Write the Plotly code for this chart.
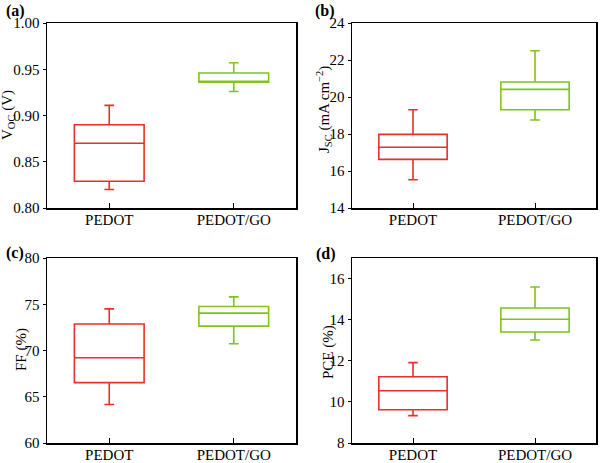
import plotly.graph_objects as go

categories = ["PEDOT", "PEDOT/GO"]
colors = ["#e8302a", "#7fc31c"]

# stats per panel: [lower, q1, median, q3, upper] for PEDOT and PEDOT/GO
voc_pedot = [0.820, 0.829, 0.870, 0.890, 0.911]
voc_go = [0.926, 0.936, 0.936, 0.946, 0.957]
jsc_pedot = [15.53, 16.63, 17.28, 17.98, 19.31]
jsc_go = [18.76, 19.31, 20.41, 20.81, 22.50]
ff_pedot = [64.16, 66.53, 69.22, 72.86, 74.50]
ff_go = [70.73, 72.64, 74.04, 74.76, 75.80]
pce_pedot = [9.33, 9.62, 10.54, 11.22, 11.91]
pce_go = [13.01, 13.40, 14.02, 14.57, 15.59]

panels = [
    ("(a)", "V<sub>OC</sub> (V)", [voc_pedot, voc_go], [0.80, 1.00], [0.80, 0.85, 0.90, 0.95, 1.00], ["0.80", "0.85", "0.90", "0.95", "1.00"]),
    ("(b)", "J<sub>SC</sub> (mA cm<sup>\u22122</sup>)", [jsc_pedot, jsc_go], [14, 24], [14, 16, 18, 20, 22, 24], None),
    ("(c)", "FF (%)", [ff_pedot, ff_go], [60, 80], [60, 65, 70, 75, 80], None),
    ("(d)", "PCE (%)", [pce_pedot, pce_go], [8, 17], [8, 10, 12, 14, 16], None),
]

W, H = 602, 463
xdoms = [[47 / W, 296 / W], [352 / W, 596 / W], [47 / W, 296 / W], [352 / W, 596 / W]]
ydoms = [[1 - 208 / H, 1 - 23 / H], [1 - 208 / H, 1 - 23 / H],
         [1 - 443 / H, 1 - 258 / H], [1 - 443 / H, 1 - 258 / H]]
label_pos = [(15, 11), (325, 11), (15, 253), (326, 254)]
title_pos = [(8, 115), (324, 110), (21, 350), (328, 352)]

fam = "Liberation Serif, Times New Roman, serif"
tickfont = dict(family=fam, size=15, color="black")
titlefont = dict(family=fam, size=15, color="black")

fig = go.Figure()
layout = dict(
    width=W, height=H, margin=dict(l=0, r=0, t=0, b=0, autoexpand=False),
    paper_bgcolor="white", plot_bgcolor="white", showlegend=False,
    boxmode="overlay", boxgap=0.2, font=tickfont, annotations=[],
)

for i, (lab, ytitle, data, yr, tv, tt) in enumerate(panels):
    n = "" if i == 0 else str(i + 1)
    for j, cat in enumerate(categories):
        lo, q1, med, q3, hi = data[j]
        fig.add_trace(go.Box(
            x=[cat], lowerfence=[lo], q1=[q1], median=[med], q3=[q3], upperfence=[hi],
            line=dict(color=colors[j], width=1.6), fillcolor="rgba(0,0,0,0)",
            whiskerwidth=0.14, xaxis="x" + n, yaxis="y" + n, hoverinfo="skip",
        ))
    layout["xaxis" + n] = dict(
        domain=xdoms[i], anchor="y" + n, type="category", automargin=False,
        categoryorder="array", categoryarray=categories, range=[-0.5, 1.5],
        showline=True, mirror=True, linecolor="black", linewidth=1.5,
        ticks="inside", ticklen=5, tickcolor="black", tickwidth=1,
        showgrid=False, zeroline=False, tickfont=tickfont, ticklabelstandoff=-3,
    )
    yax = dict(
        domain=ydoms[i], anchor="x" + n, range=yr, tickvals=tv, automargin=False,
        showline=True, mirror=True, linecolor="black", linewidth=1.5,
        ticks="outside", ticklen=3, tickcolor="black", tickwidth=1,
        showgrid=False, zeroline=False, tickfont=tickfont,
    )
    if tt:
        yax["ticktext"] = tt
    layout["yaxis" + n] = yax
    layout["annotations"].append(dict(
        text="<b>" + lab + "</b>", x=label_pos[i][0] / W, y=1 - label_pos[i][1] / H,
        xref="paper", yref="paper", showarrow=False, xanchor="center", yanchor="middle",
        font=dict(family=fam, size=16, color="black"),
    ))
    layout["annotations"].append(dict(
        text=ytitle, x=title_pos[i][0] / W, y=1 - title_pos[i][1] / H, textangle=-90,
        xref="paper", yref="paper", showarrow=False, xanchor="center", yanchor="middle",
        font=titlefont,
    ))

fig.update_layout(**layout)
fig.write_html("out.html", config={"displayModeBar": False, "staticPlot": True},
               post_script="document.body.style.margin='0px';")
